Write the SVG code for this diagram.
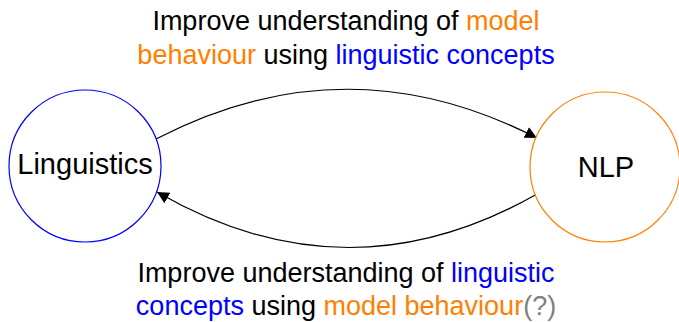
<svg xmlns="http://www.w3.org/2000/svg" width="679" height="322" viewBox="0 0 679 322">
<defs>
<style>
text{font-family:"Liberation Sans",Arial,sans-serif;font-size:27px;fill:#000}
.node{font-size:29px}
.o{fill:#ff8000}.b{fill:#0000ff}.g{fill:#808080}
.edge{fill:none;stroke:#000;stroke-width:1.2}
</style>
<marker id="arr" viewBox="0 0 10 10" refX="10" refY="5" markerWidth="12" markerHeight="12" markerUnits="userSpaceOnUse" orient="auto">
<path d="M0,0 L10,5 L0,10 z" fill="#000"/>
</marker>
</defs>
<rect width="679" height="322" fill="#fff"/>
<g id="connectors">
<path class="edge" d="M156,139 Q346,40 537,138" marker-end="url(#arr)"/>
<path class="edge" d="M537,194 Q347,302 157,192" marker-end="url(#arr)"/>
</g>
<g id="linguistics">
<circle cx="85" cy="166" r="76" fill="#fff" stroke="#0000ff" stroke-width="1.2"/>
<text class="node" x="85" y="174" text-anchor="middle">Linguistics</text>
</g>
<g id="nlp">
<circle cx="605" cy="167" r="75" fill="#fff" stroke="#ff8000" stroke-width="1.2"/>
<text class="node" x="606" y="177" text-anchor="middle">NLP</text>
</g>
<g id="label-top">
<text x="346" y="30" text-anchor="middle">Improve understanding of <tspan class="o">model</tspan></text>
<text x="346" y="64" text-anchor="middle"><tspan class="o">behaviour</tspan> using <tspan class="b">linguistic concepts</tspan></text>
</g>
<g id="label-bottom">
<text x="346" y="282" text-anchor="middle">Improve understanding of <tspan class="b">linguistic</tspan></text>
<text x="346" y="315" text-anchor="middle"><tspan class="b">concepts</tspan> using <tspan class="o">model behaviour</tspan><tspan class="g">(?)</tspan></text>
</g>
</svg>
